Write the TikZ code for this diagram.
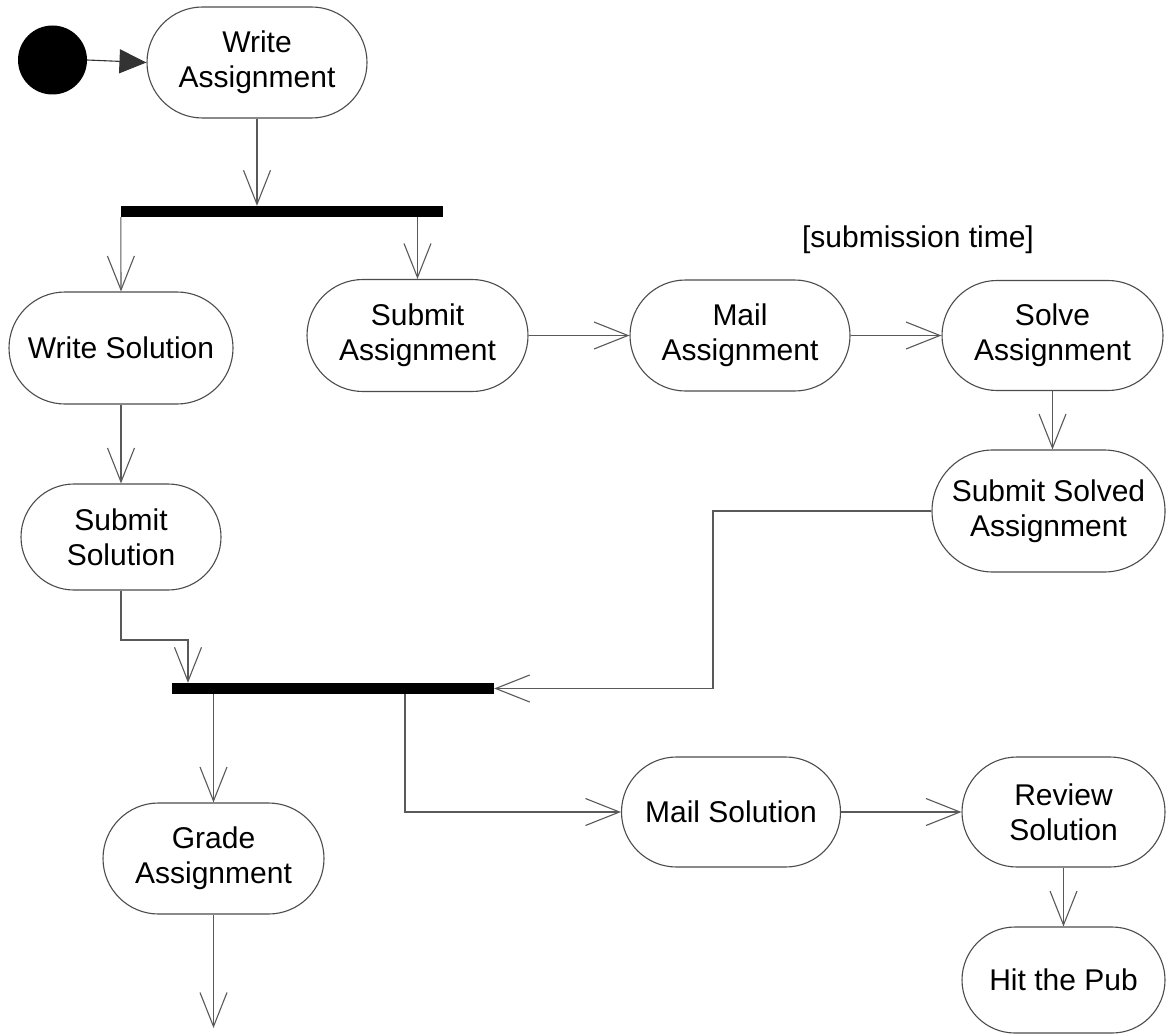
\documentclass[tikz,border=0pt]{standalone}
\usepackage{fontspec}
\setmainfont{Liberation Sans}
\usetikzlibrary{arrows.meta,calc,shapes.misc}
\begin{document}
\begin{tikzpicture}[x=1pt,y=-1pt,
  act/.style={rounded rectangle, rounded rectangle arc length=180, draw=black!70, line width=1.1pt, align=center,
              inner sep=0pt, font=\fontsize{30}{35}\selectfont},
  syncbar/.style={fill=black, draw=none, inner sep=0pt, minimum height=11pt, minimum width=322pt},
  flow/.style={draw=black!65, line width=1.1pt, -{Straight Barb[length=34pt,width=27pt]}},
  lbl/.style={font=\fontsize{30}{35}\selectfont, inner sep=0pt}
]
\fill[white] (0,0) rectangle (1166,1035);
\useasboundingbox (0,0) rectangle (1166,1035);

% initial state
\node[circle, fill=black, minimum size=69pt, inner sep=0pt] (start) at (52.5,60) {};

% activities
\node[act, minimum width=220pt, minimum height=111pt] (wa)  at (257,62.5)   {Write\\Assignment};
\node[act, minimum width=224pt, minimum height=112pt] (ws)  at (121,348)    {Write Solution};
\node[act, minimum width=221pt, minimum height=112pt] (sa)  at (417.5,335.5){Submit\\Assignment};
\node[act, minimum width=220pt, minimum height=111pt] (ma)  at (740,335.5)  {Mail\\Assignment};
\node[act, minimum width=221pt, minimum height=110pt] (so)  at (1052.5,335.5){Solve\\Assignment};
\node[act, minimum width=233pt, minimum height=122pt] (ssa) at (1048.5,511) {Submit Solved\\Assignment};
\node[act, minimum width=200pt, minimum height=106pt] (ss)  at (121,537)    {Submit\\Solution};
\node[act, minimum width=221pt, minimum height=111pt] (ga)  at (213.5,858.5){Grade\\Assignment};
\node[act, minimum width=219pt, minimum height=110pt] (ms)  at (731,812)    {Mail Solution};
\node[act, minimum width=203pt, minimum height=110pt] (rs)  at (1063.5,812) {Review\\Solution};
\node[act, minimum width=203pt, minimum height=106pt] (hp)  at (1063.5,980) {Hit the Pub};

% synchronisation bars
\node[syncbar] (b1) at (282,211.5) {};
\node[syncbar] (b2) at (333,688.5) {};

% guard label
\node[lbl] (guard) at (918,240) {[submission time]};

% helper coordinates
\coordinate (k1) at (713,688.5);
\coordinate (k2) at (188,640);
\coordinate (k3) at (405,694);
\coordinate (gend) at (213.5,1028);

% connectors
\draw[draw=black!80, line width=1.1pt, -{Triangle[length=27pt,width=24pt]}] (start.east) -- (wa.west);
\draw[flow] (wa.south) -- (wa.south |- b1.north);
\draw[flow] (b1.south west) -- (ws.north);
\draw[flow] (sa.north |- b1.south) -- (sa.north);
\draw[flow] (sa.east) -- (ma.west);
\draw[flow] (ma.east) -- (so.west);
\draw[flow] (so.south) -- (so.south |- ssa.north);
\draw[flow] (ssa.west) -| (k1) -- (b2.east);
\draw[flow] (ws.south) -- (ss.north);
\draw[flow] (ss.south) |- (k2) -- (k2 |- b2.north);
\draw[flow] (ga.north |- b2.south) -- (ga.north);
\draw[flow] (k3) |- (ms.west);
\draw[flow] (ms.east) -- (rs.west);
\draw[flow] (rs.south) -- (hp.north);
\draw[flow] (ga.south) -- (gend);
\end{tikzpicture}
\end{document}
